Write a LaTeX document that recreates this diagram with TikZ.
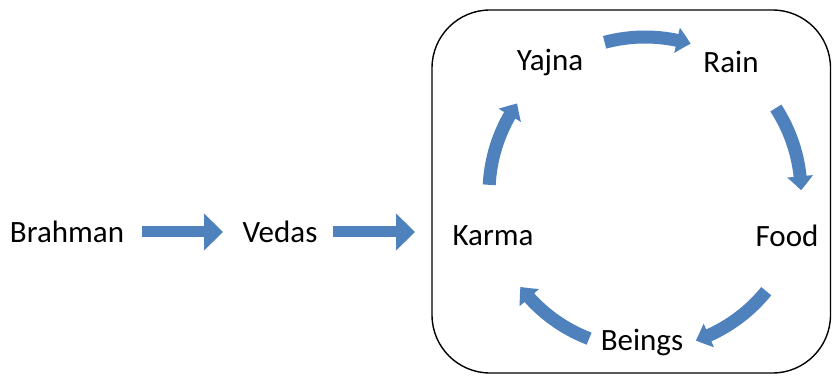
\documentclass[tikz,border=0pt]{standalone}
\usepackage{fontspec}
\setmainfont{Carlito}
\usetikzlibrary{arrows.meta,bending}
\definecolor{arrowblue}{HTML}{4F81BD}
\tikzset{
  lbl/.style={font=\fontsize{31}{36}\selectfont, inner sep=0pt, anchor=center},
  straightarrow/.style={draw=arrowblue, line width=11pt, -{Triangle[width=36pt,length=19pt]}},
  cyclearrow/.style={draw=arrowblue, line width=13pt, -{Triangle[width=25pt,length=14pt,bend]}},
  frame/.style={draw=black, line width=1.4pt, rounded corners=58pt}
}
\begin{document}
\begin{tikzpicture}[x=1pt,y=-1pt]
\useasboundingbox (0,0) rectangle (832,379);
\draw[frame] (432,10) rectangle (830.5,373);
\node[lbl] (brahman) at (67,232) {Brahman};
\node[lbl] (vedas) at (280,232) {Vedas};
\node[lbl] (karma) at (493,236) {Karma};
\node[lbl] (yajna) at (550,62) {Yajna};
\node[lbl] (rain) at (731,62) {Rain};
\node[lbl] (food) at (787,236) {Food};
\node[lbl] (beings) at (642,342) {Beings};
\coordinate (c) at (645,193);
\coordinate (a1s) at (142,232);
\coordinate (a1e) at (223,232);
\coordinate (a2s) at (333,232);
\coordinate (a2e) at (415,232);
\draw[straightarrow] (a1s) -- (a1e);
\draw[straightarrow] (a2s) -- (a2e);
\foreach \k in {0,1,2,3,4}{
  \draw[cyclearrow] (c) ++({-105+72*\k}:156) arc[start angle={-105+72*\k}, end angle={-73+72*\k}, radius=156];
}
\end{tikzpicture}
\end{document}
